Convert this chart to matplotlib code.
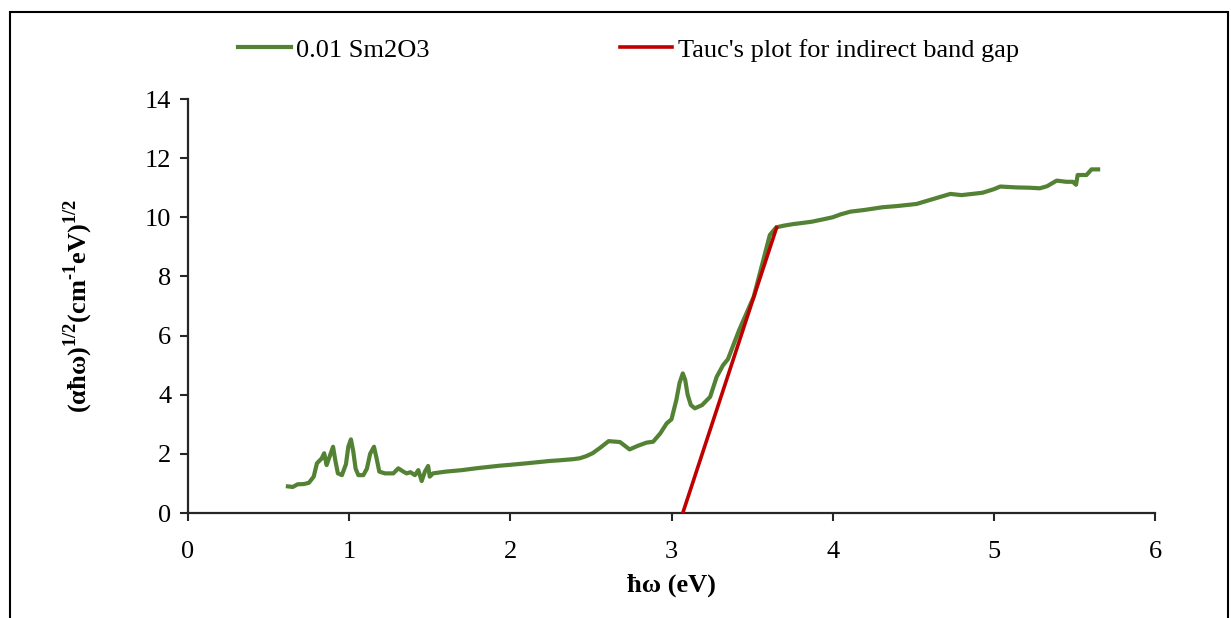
import matplotlib
matplotlib.use("Agg")
import matplotlib.pyplot as plt
from matplotlib.patches import Rectangle

# energy (eV) and (alpha*hbar*omega)^(1/2) for the 0.01 Sm2O3 sample
energy = [0.62, 0.65, 0.68, 0.72, 0.75, 0.78, 0.80, 0.83, 0.845, 0.86, 0.875, 0.90, 0.915,
          0.93, 0.955, 0.98, 0.995, 1.011, 1.025, 1.04, 1.057, 1.088, 1.11, 1.13, 1.154,
          1.17, 1.187, 1.222, 1.274, 1.305, 1.336, 1.357, 1.38, 1.408, 1.429, 1.45, 1.47,
          1.49, 1.50, 1.52, 1.6, 1.7, 1.8, 1.935, 2.0, 2.1, 2.246, 2.3, 2.39, 2.43, 2.47,
          2.51, 2.556, 2.61, 2.68, 2.74, 2.79, 2.845, 2.886, 2.93, 2.97, 3.0, 3.03, 3.05,
          3.07, 3.085, 3.10, 3.12, 3.145, 3.19, 3.24, 3.28, 3.32, 3.35, 3.42, 3.51, 3.57,
          3.61, 3.65, 3.70, 3.755, 3.80, 3.87, 3.94, 4.0, 4.05, 4.11, 4.2, 4.31, 4.4, 4.52,
          4.6, 4.73, 4.8, 4.93, 5.0, 5.04, 5.14, 5.22, 5.285, 5.33, 5.39, 5.45, 5.49, 5.51,
          5.52, 5.575, 5.606, 5.647]
tauc = [0.90, 0.88, 0.97, 0.98, 1.02, 1.23, 1.68, 1.85, 2.02, 1.62, 1.85, 2.24, 1.75,
        1.34, 1.28, 1.65, 2.25, 2.49, 2.10, 1.50, 1.28, 1.28, 1.50, 2.00, 2.24,
        1.85, 1.40, 1.34, 1.34, 1.51, 1.40, 1.34, 1.38, 1.28, 1.45, 1.08, 1.40,
        1.59, 1.23, 1.34, 1.40, 1.45, 1.52, 1.60, 1.63, 1.68, 1.76, 1.78, 1.82, 1.85, 1.92,
        2.02, 2.20, 2.43, 2.40, 2.15, 2.27, 2.38, 2.41, 2.69, 3.03, 3.17, 3.82, 4.40,
        4.72, 4.50, 4.00, 3.65, 3.54, 3.65, 3.93, 4.60, 5.00, 5.20, 6.19, 7.31, 8.56,
        9.40, 9.66, 9.72, 9.77, 9.80, 9.85, 9.93, 10.00, 10.10, 10.19, 10.25, 10.34, 10.38, 10.45,
        10.58, 10.79, 10.75, 10.83, 10.95, 11.04, 11.01, 11.00, 10.98, 11.05, 11.24, 11.20, 11.20, 11.10,
        11.43, 11.43, 11.62, 11.62]

# linear fit of the absorption edge
fit_x = [3.07, 3.652]
fit_y = [0.0, 9.65]

plt.rcParams['font.family'] = 'Liberation Serif'
plt.rcParams['mathtext.fontset'] = 'custom'
plt.rcParams['mathtext.rm'] = 'Liberation Serif'
plt.rcParams['mathtext.bf'] = 'Liberation Serif:bold'

fig = plt.figure(figsize=(12.31, 6.18), dpi=100)
ax = fig.add_axes([188 / 1231, 105 / 618, (1155 - 188) / 1231, (513 - 99) / 618])

ax.plot(energy, tauc, color='#548235', lw=3, label='0.01 Sm2O3', zorder=2)
ax.plot(fit_x, fit_y, color='#C00000', lw=2.6, label="Tauc's plot for indirect band gap", zorder=3)

ax.set_xlim(0, 6)
ax.set_ylim(0, 14)
ax.set_xticks(range(0, 7))
ax.set_yticks(range(0, 15, 2))
for s in ['top', 'right']:
    ax.spines[s].set_visible(False)
for s in ['left', 'bottom']:
    ax.spines[s].set_linewidth(1.6)
    ax.spines[s].set_color('#262626')
ax.tick_params(axis='both', direction='out', length=6, width=1.5, color='#262626', labelsize=19)
ax.tick_params(axis='x', pad=14)
ax.tick_params(axis='y', pad=6)

ax.set_xlabel('ħω (eV)', fontsize=19, fontweight='bold', labelpad=8)
ax.set_ylabel('(αħω)$^{\\mathbf{1/2}}$(cm$^{\\mathbf{\u20101}}$eV)$^{\\mathbf{1/2}}$',
              fontsize=19, fontweight='bold', labelpad=36)

fig.legend(loc='center left', bbox_to_anchor=(238 / 1231, 1 - 50 / 618), ncol=2,
           frameon=False, fontsize=19, handlelength=2.0, handletextpad=0.2,
           columnspacing=7.2, borderpad=0, borderaxespad=0)

# outer frame around the figure
fig.patches.append(Rectangle((10 / 1231, -0.05), (1228 - 10) / 1231, 1.05 - 12 / 618,
                             transform=fig.transFigure, fill=False, lw=1.5, ec='black'))

fig.savefig('out.png', dpi=100)
